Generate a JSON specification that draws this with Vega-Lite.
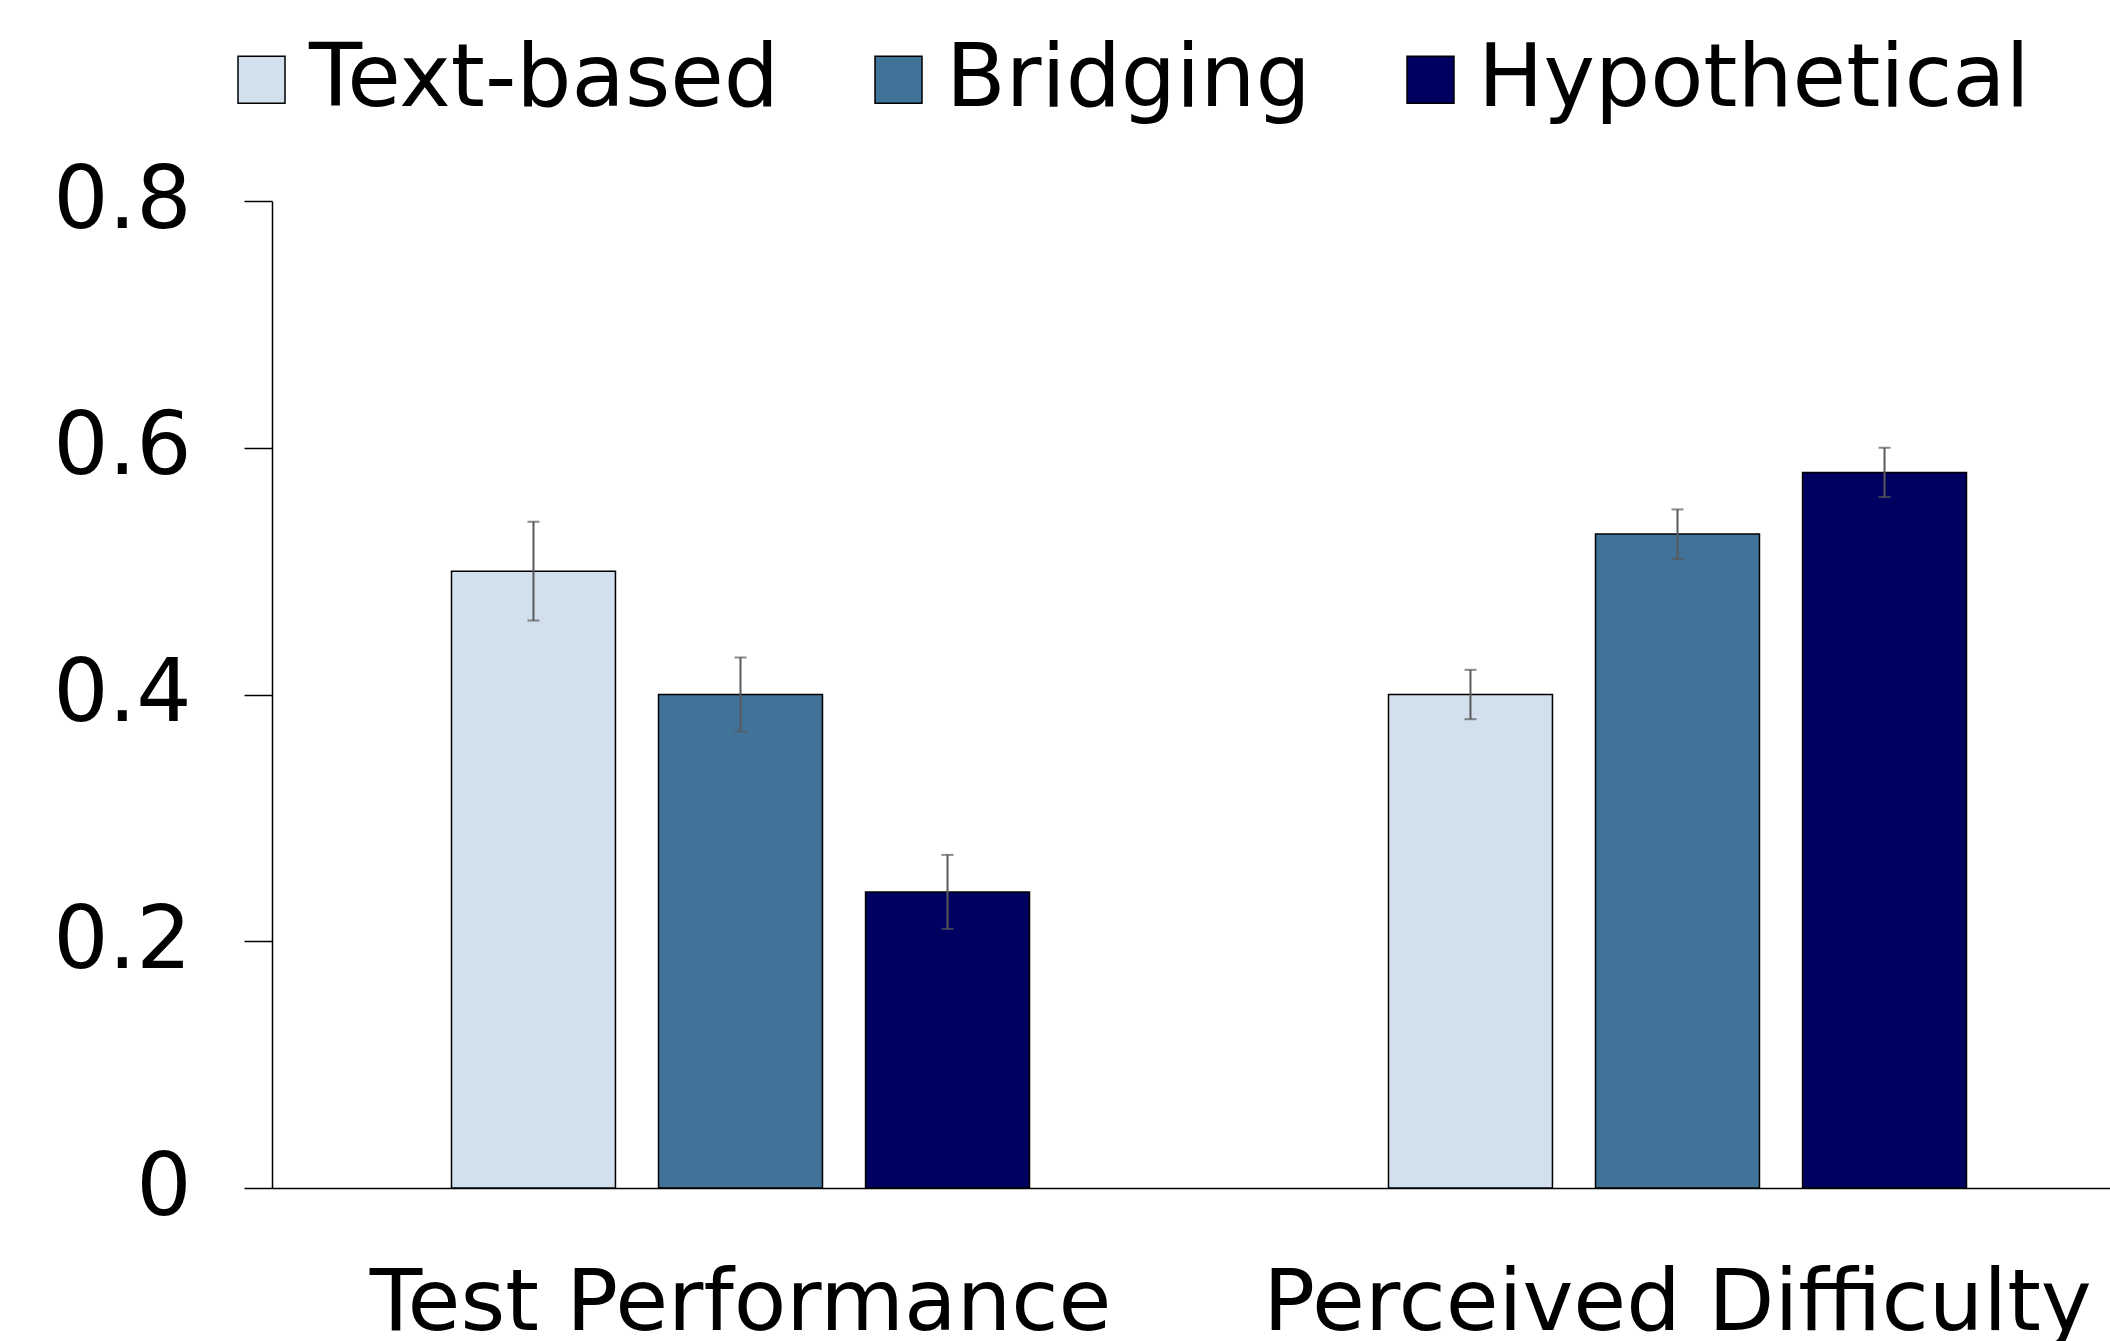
{
  "$schema": "https://vega.github.io/schema/vega-lite/v6.json",
  "autosize": {"type": "none"},
  "padding": {"left": 272, "top": 201, "right": 0, "bottom": 153},
  "width": 1838,
  "height": 987,
  "background": "white",
  "config": {
    "view": {"stroke": null},
    "font": "DejaVu Sans"
  },
  "data": {
    "values": [
      {"measure": "Test Performance", "condition": "Text-based", "mean": 0.50, "lo": 0.46, "hi": 0.54},
      {"measure": "Test Performance", "condition": "Bridging", "mean": 0.40, "lo": 0.37, "hi": 0.43},
      {"measure": "Test Performance", "condition": "Hypothetical", "mean": 0.24, "lo": 0.21, "hi": 0.27},
      {"measure": "Perceived Difficulty", "condition": "Text-based", "mean": 0.40, "lo": 0.38, "hi": 0.42},
      {"measure": "Perceived Difficulty", "condition": "Bridging", "mean": 0.53, "lo": 0.51, "hi": 0.55},
      {"measure": "Perceived Difficulty", "condition": "Hypothetical", "mean": 0.58, "lo": 0.56, "hi": 0.60}
    ]
  },
  "encoding": {
    "x": {
      "field": "measure",
      "type": "nominal",
      "sort": ["Test Performance", "Perceived Difficulty"],
      "scale": {"range": [0, 1874], "paddingInner": 0, "paddingOuter": 0},
      "axis": {
        "title": null,
        "labelAngle": 0,
        "labelFontSize": 86,
        "labelColor": "black",
        "labelLimit": 0,
        "ticks": false,
        "labelPadding": 73,
        "domainColor": "black",
        "domainWidth": 1.5,
        "grid": false
      }
    },
    "xOffset": {
      "field": "condition",
      "type": "nominal",
      "sort": ["Text-based", "Bridging", "Hypothetical"],
      "scale": {"paddingInner": 0.208, "paddingOuter": 0.867}
    }
  },
  "layer": [
    {
      "mark": {"type": "bar", "stroke": "black", "strokeWidth": 1.5},
      "encoding": {
        "y": {
          "field": "mean",
          "type": "quantitative",
          "scale": {"domain": [0, 0.8], "nice": false},
          "axis": {
            "title": null,
            "values": [0, 0.2, 0.4, 0.6, 0.8],
            "format": "~g",
            "labelFontSize": 87,
            "labelColor": "black",
            "labelPadding": 53,
            "tickSize": 28,
            "tickColor": "black",
            "tickWidth": 1.5,
            "domainColor": "black",
            "domainWidth": 1.5,
            "grid": false
          }
        },
        "fill": {
          "field": "condition",
          "type": "nominal",
          "scale": {
            "domain": ["Text-based", "Bridging", "Hypothetical"],
            "range": ["#D2DFEC", "#417399", "#000060"]
          },
          "legend": {
            "title": null,
            "orient": "none",
            "direction": "horizontal",
            "legendX": -54,
            "legendY": -165,
            "symbolType": "square",
            "symbolSize": 2209,
            "symbolStrokeColor": "black",
            "symbolStrokeWidth": 1.5,
            "labelFontSize": 87,
            "labelColor": "black",
            "labelOffset": 4,
            "labelLimit": 0,
            "columnPadding": 76
          }
        }
      }
    },
    {
      "mark": {"type": "rule", "color": "#595959", "strokeWidth": 2},
      "encoding": {
        "y": {"field": "lo", "type": "quantitative"},
        "y2": {"field": "hi"}
      }
    },
    {
      "mark": {"type": "tick", "color": "#595959", "thickness": 2, "size": 12},
      "encoding": {
        "y": {"field": "lo", "type": "quantitative"}
      }
    },
    {
      "mark": {"type": "tick", "color": "#595959", "thickness": 2, "size": 12},
      "encoding": {
        "y": {"field": "hi", "type": "quantitative"}
      }
    }
  ]
}
